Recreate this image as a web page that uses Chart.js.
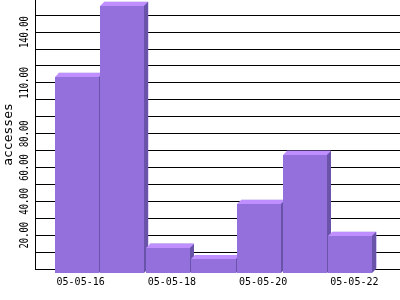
<!DOCTYPE html>
<html>
<head>
<meta charset="utf-8">
<script src="https://cdn.jsdelivr.net/npm/chart.js@4"></script>
<style>
html,body{margin:0;padding:0;background:#fff}
#wrap{width:400px;height:300px}
</style>
</head>
<body>
<div id="wrap"><canvas id="chart"></canvas></div>
<script>
/* ===== Data ===== */
const DAYS = ['05-05-16','05-05-17','05-05-18','05-05-19','05-05-20','05-05-21','05-05-22'];
const ACCESSES = [116, 158, 15, 8, 41, 70, 22];
// only every other day gets a label on the x axis
const X_LABEL_DAYS = ['05-05-16','05-05-18','05-05-20','05-05-22'];
// y labels that survive the overlap check in the original
const Y_LABELS = [20, 40, 60, 80, 110, 140];

const FRONT = '#9370db', TOP = '#bf8fff', SIDE = '#6a54aa';
const DEPTH = 4;
const MONO = '"DejaVu Sans Mono", monospace';

// front, top and side faces, shifted off the library's bar (the back face)
const box3d = {
  id:'box3d',
  afterDatasetsDraw(chart){
    const c = chart.ctx;
    c.save();
    chart.getDatasetMeta(0).data.forEach(bar => {
      const {x, y, width, base} = bar.getProps(['x','y','width','base'], true);
      const L = Math.round(x - width/2) - DEPTH, R = Math.round(x + width/2) - DEPTH;
      const T = Math.round(y) + DEPTH, B = Math.round(base) + DEPTH;
      c.fillStyle = TOP;
      c.beginPath(); c.moveTo(L,T); c.lineTo(L+DEPTH,T-DEPTH); c.lineTo(R+DEPTH,T-DEPTH); c.lineTo(R,T); c.closePath(); c.fill();
      c.fillStyle = SIDE;
      c.beginPath(); c.moveTo(R,T); c.lineTo(R+DEPTH,T-DEPTH); c.lineTo(R+DEPTH,B-DEPTH); c.lineTo(R,B); c.closePath(); c.fill();
      c.fillStyle = FRONT;
      c.fillRect(L, T, R-L, B-T);
    });
    c.restore();
  }
};

// rotated y tick labels (narrow, tall glyphs like the original)
const yLabels = {
  id:'yLabels',
  afterDraw(chart){
    const c = chart.ctx, s = chart.scales.y;
    c.save();
    c.fillStyle = '#000';
    c.font = '13px ' + MONO;
    c.textAlign = 'center';
    c.textBaseline = 'middle';
    Y_LABELS.forEach(v => {
      c.save();
      c.translate(25, s.getPixelForValue(v));
      c.rotate(-Math.PI/2);
      c.scale(0.68, 1);
      c.fillText(v.toFixed(2), 0, 0);
      c.restore();
    });
    c.restore();
  }
};

new Chart(document.getElementById('chart'), {
  type:'bar',
  plugins:[box3d, yLabels],
  data:{
    datasets:[{
      label:'accesses',
      data:ACCESSES.map((v,i) => ({x:i, y:v})),
      backgroundColor:FRONT,
      borderWidth:0,
      barPercentage:0.965,
      categoryPercentage:1
    }]
  },
  options:{
    responsive:true, maintainAspectRatio:false, animation:false,
    layout:{padding:0},
    plugins:{legend:{display:false}, tooltip:{enabled:false}},
    scales:{
      x:{
        type:'linear', offset:false, min:-1, max:7, z:1,
        afterFit:s => { s.height = 31; },
        afterBuildTicks:s => { s.ticks = X_LABEL_DAYS.map(d => ({value:DAYS.indexOf(d)})); },
        grid:{display:false, drawTicks:false, tickLength:0},
        border:{display:true, color:'#000', width:1},
        ticks:{color:'#000', padding:7, font:{family:MONO, size:10}, maxRotation:0, autoSkip:false,
          callback:v => DAYS[v]}
      },
      y:{
        min:0, max:159,
        afterFit:s => { s.width = 35; },
        grid:{color:'#000', lineWidth:1, drawTicks:false, tickLength:0},
        border:{display:true, color:'#000', width:1},
        ticks:{display:false, stepSize:10, includeBounds:false},
        title:{display:true, text:'accesses', color:'#000', font:{family:MONO, size:13}, padding:{top:1, bottom:0}}
      }
    }
  }
});
</script>
</body>
</html>
